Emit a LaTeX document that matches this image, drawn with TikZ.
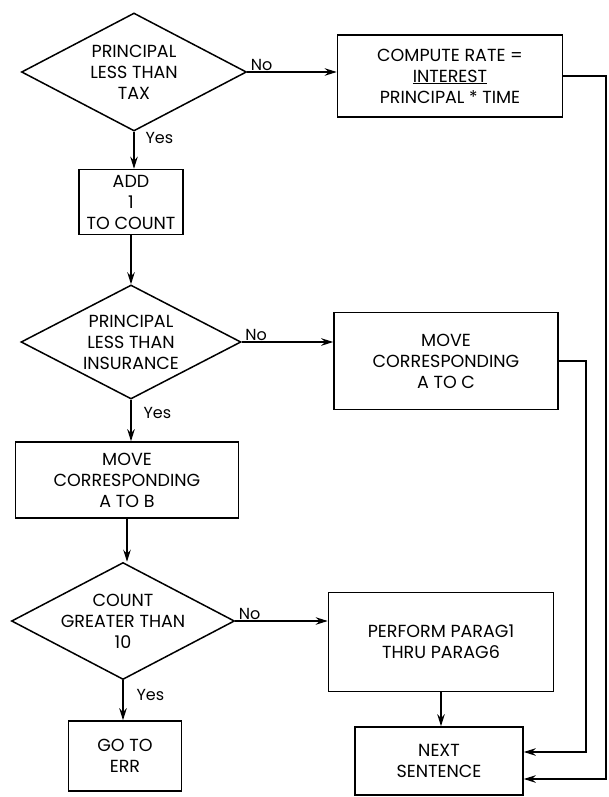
\documentclass[tikz,border=0pt]{standalone}
\usepackage{fontspec}
\setmainfont{Poppins}
\usetikzlibrary{shapes.geometric,arrows.meta}

\begin{document}
\begin{tikzpicture} [
    x=1pt, y=-1pt,
    font=\fontsize{17.5}{21}\selectfont,
    box/.style={rectangle, draw, line width=1.6pt, align=center, inner sep=0pt},
    test/.style={diamond, draw, line width=1.5pt, align=center, shape aspect=1.9, inner xsep=-5pt, inner ysep=-2pt},
    lbl/.style={font=\fontsize{16}{18}\selectfont, inner sep=1pt},
    arrow/.style={-{Stealth[length=12pt, width=7.5pt]}, line width=1.1pt}
]
    \useasboundingbox (0,0) rectangle (608,797);

    % left column
    \node[test, minimum width=225pt, minimum height=118pt] (tax) at (134,72) {PRINCIPAL\\LESS THAN\\TAX};
    \node[box, minimum width=104pt, minimum height=65pt] (add) at (131,202) {ADD\\1\\TO COUNT};
    \node[test, minimum width=220pt, minimum height=114pt] (ins) at (131,342) {PRINCIPAL\\LESS THAN\\INSURANCE};
    \node[box, minimum width=223pt, minimum height=76pt] (moveB) at (127,480) {MOVE\\CORRESPONDING\\A TO B};
    \node[test, minimum width=223pt, minimum height=117pt] (count) at (123,621) {COUNT\\GREATER THAN\\10};
    \node[box, minimum width=113pt, minimum height=70pt] (goto) at (125,756) {GO TO\\ERR};

    % right column
    \node[box, minimum width=225pt, minimum height=82pt] (rate) at (450,76) {COMPUTE RATE =\\\underline{INTEREST}\\PRINCIPAL * TIME};
    \node[box, minimum width=224pt, minimum height=97pt] (moveC) at (446,361) {MOVE\\CORRESPONDING\\A TO C};
    \node[box, minimum width=225pt, minimum height=99pt] (perform) at (441,642) {PERFORM PARAG1\\THRU PARAG6};
    \node[box, minimum width=168pt, minimum height=68pt] (next) at (439,761) {NEXT\\SENTENCE};

    % bends on the right
    \coordinate (inC) at (586,752);
    \coordinate (inR) at (606,779);

    % Yes branches
    \draw[arrow] (tax.south) -- node[lbl, right=10pt, pos=0.18] {Yes} (tax.south |- add.north);
    \draw[arrow] (add.south) -- (add.south |- ins.north);
    \draw[arrow] (ins.south) -- node[lbl, right=11pt, pos=0.33] {Yes} (ins.south |- moveB.north);
    \draw[arrow] (moveB.south) -- (moveB.south |- count.north);
    \draw[arrow] (count.south) -- node[lbl, right=12pt, pos=0.36] {Yes} (count.south |- goto.north);

    % No branches
    \draw[arrow] (tax.east) -- node[lbl, above right, pos=0, xshift=2pt] {No} (tax.east -| rate.west);
    \draw[arrow] (ins.east) -- node[lbl, above right, pos=0, xshift=2pt] {No} (ins.east -| moveC.west);
    \draw[arrow] (count.east) -- node[lbl, above right, pos=0, xshift=2pt] {No} (count.east -| perform.west);

    % to next sentence
    \draw[arrow] (perform.south) -- (perform.south |- next.north);
    \draw[arrow] (moveC.east) -| (inC) -- (inC -| next.east);
    \draw[arrow] (rate.east) -| (inR) -- (inR -| next.east);
\end{tikzpicture}
\end{document}
